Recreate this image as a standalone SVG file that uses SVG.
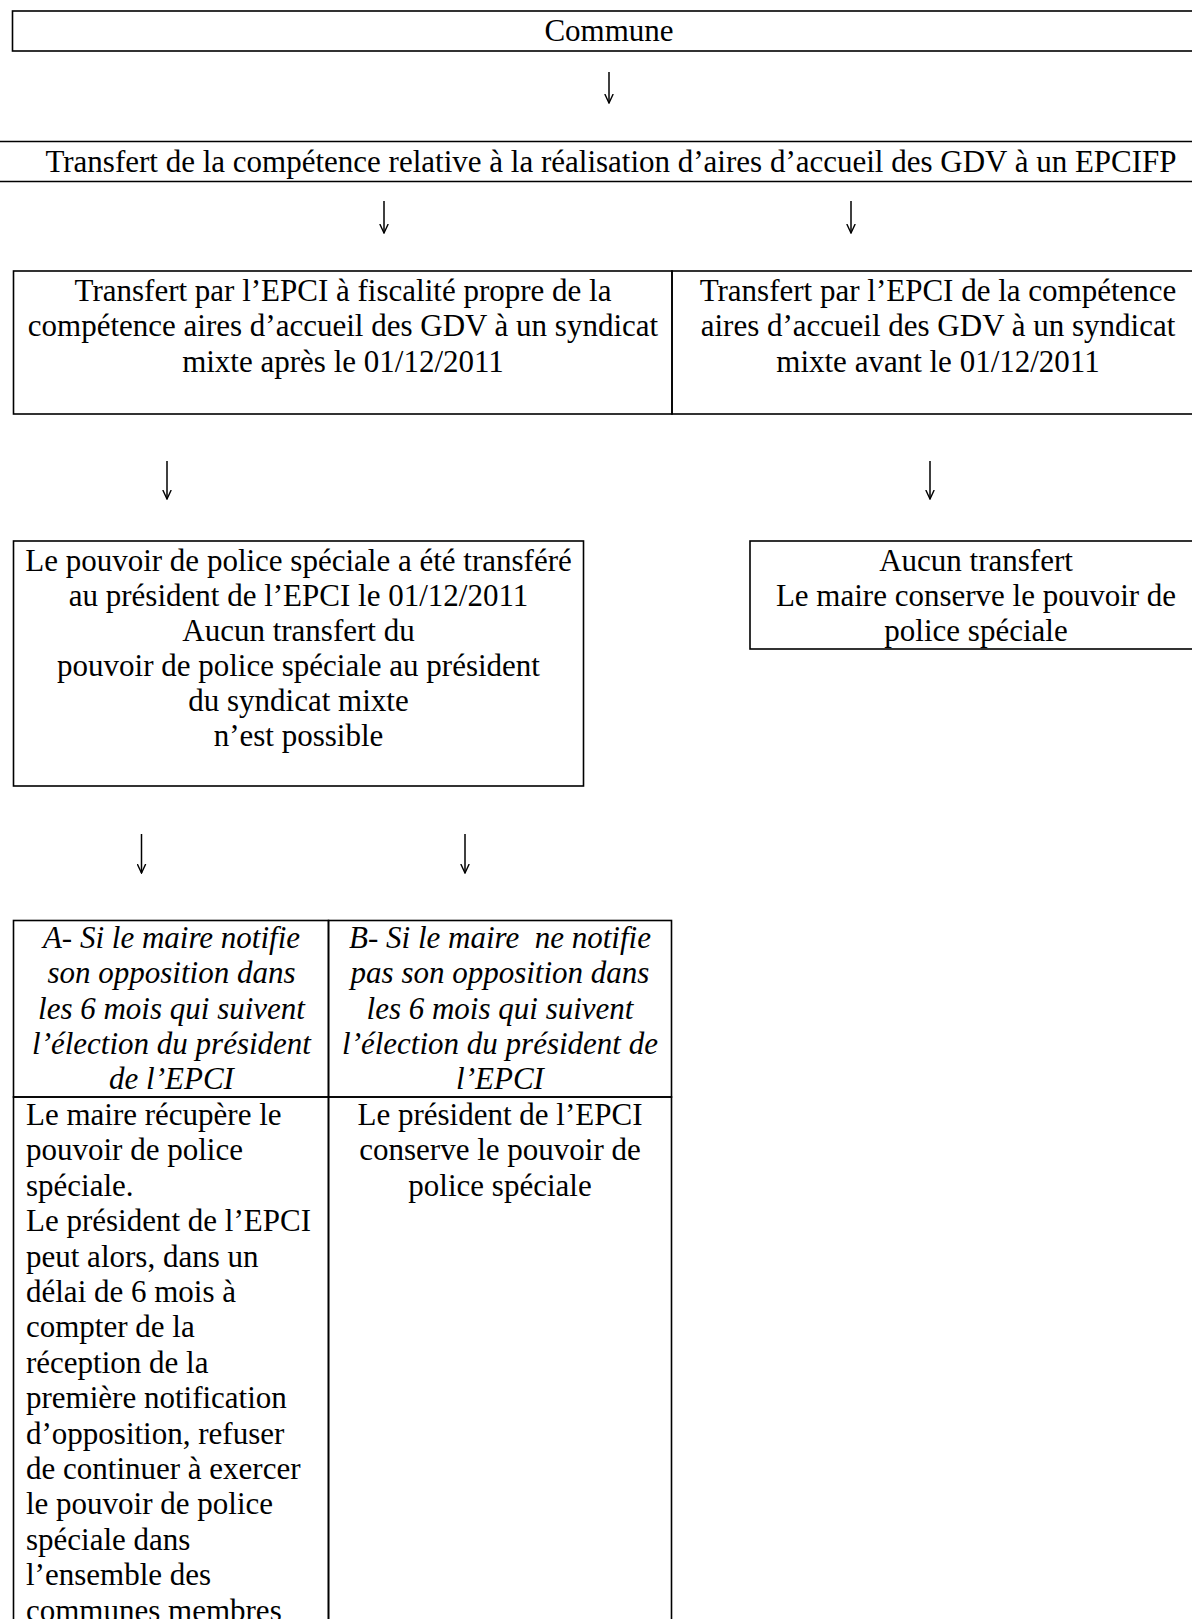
<svg xmlns="http://www.w3.org/2000/svg" width="1192" height="1619" viewBox="0 0 1192 1619">
  <style>
    .bx { fill: none; stroke: #000; stroke-width: 1.6; }
    .t { font-family: "Liberation Serif", "Times New Roman", serif; font-size: 31px; fill: #000; }
    .c { text-anchor: middle; }
    .i { font-style: italic; }
    .cn { fill: none; stroke: #000; stroke-width: 1.5; }
  </style>
  <defs>
    <marker id="ah" viewBox="0 0 10 10" refX="9.5" refY="5" markerWidth="10" markerHeight="10" markerUnits="userSpaceOnUse" orient="auto">
      <path d="M0.5,0.8 L9.5,5 L0.5,9.2" fill="none" stroke="#000" stroke-width="1.4"/>
    </marker>
  </defs>
  <rect width="1192" height="1619" fill="#fff"/>

  <g id="n-commune">
    <rect class="bx" x="12.5" y="11" width="1190" height="40"/>
    <text class="t c" x="609" y="41">Commune</text>
  </g>

  <g id="n-transfert-competence">
    <line class="bx" x1="0" y1="141.5" x2="1192" y2="141.5"/>
    <line class="bx" x1="0" y1="181.5" x2="1192" y2="181.5"/>
    <text class="t c" x="611" y="171.5">Transfert de la compétence relative à la réalisation d’aires d’accueil des GDV à un EPCIFP</text>
  </g>

  <g id="n-transfert-apres">
    <rect class="bx" x="13.5" y="271" width="658.5" height="143"/>
    <text class="t c" x="343" y="301">Transfert par l’EPCI à fiscalité propre de la</text>
    <text class="t c" x="343" y="336.3">compétence aires d’accueil des GDV à un syndicat</text>
    <text class="t c" x="343" y="371.6">mixte après le 01/12/2011</text>
  </g>

  <g id="n-transfert-avant">
    <rect class="bx" x="672" y="271" width="530" height="143"/>
    <text class="t c" x="938" y="301">Transfert par l’EPCI de la compétence</text>
    <text class="t c" x="938" y="336.3">aires d’accueil des GDV à un syndicat</text>
    <text class="t c" x="938" y="371.6">mixte avant le 01/12/2011</text>
  </g>

  <g id="n-pouvoir-transfere">
    <rect class="bx" x="13.5" y="541" width="570" height="245"/>
    <text class="t c" x="298.5" y="571">Le pouvoir de police spéciale a été transféré</text>
    <text class="t c" x="298.5" y="606">au président de l’EPCI le 01/12/2011</text>
    <text class="t c" x="298.5" y="641">Aucun transfert du</text>
    <text class="t c" x="298.5" y="676">pouvoir de police spéciale au président</text>
    <text class="t c" x="298.5" y="711">du syndicat mixte</text>
    <text class="t c" x="298.5" y="746">n’est possible</text>
  </g>

  <g id="n-aucun-transfert">
    <rect class="bx" x="750" y="541" width="452" height="108"/>
    <text class="t c" x="976" y="571">Aucun transfert</text>
    <text class="t c" x="976" y="606">Le maire conserve le pouvoir de</text>
    <text class="t c" x="976" y="641">police spéciale</text>
  </g>

  <g id="n-cas-a">
    <rect class="bx" x="13.5" y="920.5" width="315" height="176.5"/>
    <text class="t c i" x="171.5" y="948">A- Si le maire notifie</text>
    <text class="t c i" x="171.5" y="983.3">son opposition dans</text>
    <text class="t c i" x="171.5" y="1018.6">les 6 mois qui suivent</text>
    <text class="t c i" x="171.5" y="1053.9">l’élection du président</text>
    <text class="t c i" x="171.5" y="1089.2">de l’EPCI</text>
  </g>

  <g id="n-cas-b">
    <rect class="bx" x="328.5" y="920.5" width="343" height="176.5"/>
    <text class="t c i" x="500" y="948" xml:space="preserve">B- Si le maire  ne notifie</text>
    <text class="t c i" x="500" y="983.3">pas son opposition dans</text>
    <text class="t c i" x="500" y="1018.6">les 6 mois qui suivent</text>
    <text class="t c i" x="500" y="1053.9">l’élection du président de</text>
    <text class="t c i" x="500" y="1089.2">l’EPCI</text>
  </g>

  <g id="n-effet-a">
    <rect class="bx" x="13.5" y="1097" width="315" height="540"/>
    <text class="t" x="26" y="1125">Le maire récupère le</text>
    <text class="t" x="26" y="1160.4">pouvoir de police</text>
    <text class="t" x="26" y="1195.8">spéciale.</text>
    <text class="t" x="26" y="1231.2">Le président de l’EPCI</text>
    <text class="t" x="26" y="1266.6">peut alors, dans un</text>
    <text class="t" x="26" y="1302">délai de 6 mois à</text>
    <text class="t" x="26" y="1337.4">compter de la</text>
    <text class="t" x="26" y="1372.8">réception de la</text>
    <text class="t" x="26" y="1408.2">première notification</text>
    <text class="t" x="26" y="1443.6">d’opposition, refuser</text>
    <text class="t" x="26" y="1479">de continuer à exercer</text>
    <text class="t" x="26" y="1514.4">le pouvoir de police</text>
    <text class="t" x="26" y="1549.8">spéciale dans</text>
    <text class="t" x="26" y="1585.2">l’ensemble des</text>
    <text class="t" x="26" y="1620.6">communes membres</text>
  </g>

  <g id="n-effet-b">
    <rect class="bx" x="328.5" y="1097" width="343" height="540"/>
    <text class="t c" x="500" y="1125">Le président de l’EPCI</text>
    <text class="t c" x="500" y="1160.4">conserve le pouvoir de</text>
    <text class="t c" x="500" y="1195.8">police spéciale</text>
  </g>

  <g id="connectors">
    <line class="cn" x1="609" y1="72" x2="609" y2="103" marker-end="url(#ah)"/>
    <line class="cn" x1="384" y1="201" x2="384" y2="233" marker-end="url(#ah)"/>
    <line class="cn" x1="851" y1="201" x2="851" y2="233" marker-end="url(#ah)"/>
    <line class="cn" x1="167" y1="461" x2="167" y2="499" marker-end="url(#ah)"/>
    <line class="cn" x1="930" y1="461" x2="930" y2="499" marker-end="url(#ah)"/>
    <line class="cn" x1="141.5" y1="834" x2="141.5" y2="873" marker-end="url(#ah)"/>
    <line class="cn" x1="465" y1="834" x2="465" y2="873" marker-end="url(#ah)"/>
  </g>
</svg>
